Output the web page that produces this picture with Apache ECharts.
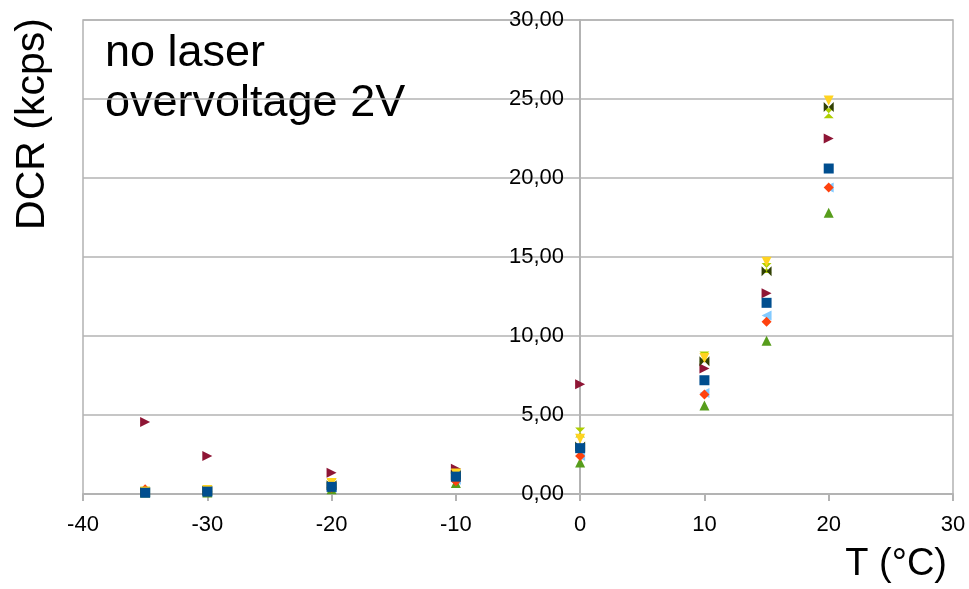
<!DOCTYPE html>
<html>
<head>
<meta charset="utf-8">
<script src="https://cdn.jsdelivr.net/npm/echarts@6/dist/echarts.min.js"></script>
<style>
  html, body { margin: 0; padding: 0; background: #fff; }
  #chart { width: 969px; height: 589px; }
</style>
</head>
<body>
<div id="chart"></div>
<script>
// temperatures (°C)
const temps = [-35, -30, -20, -10, 0, 10, 15, 20]

// DCR (kcps) per sample
const sBlue      = [0.08, 0.15, 0.45, 1.10, 2.90, 7.20, 12.10, 20.60]
const sOrange    = [0.30, 0.15, 0.40, 0.80, 2.40, 6.30, 10.90, 19.40]
const sYellow    = [0.15, 0.25, 0.70, 1.30, 3.50, 8.60, 14.70, 24.90]
const sGreen     = [0.10, 0.10, 0.30, 0.70, 2.00, 5.60, 9.70, 17.80]
const sDarkRed   = [4.55, 2.40, 1.35, 1.60, 6.95, 7.95, 12.70, 22.50]
const sLightBlue = [0.10, 0.12, 0.40, 0.90, 2.40, 6.40, 11.30, 19.40]
const sOlive     = [0.12, 0.20, 0.55, 1.20, 3.00, 8.40, 14.10, 24.50]
const sLime      = [0.15, 0.25, 0.65, 1.25, 3.90, 8.70, 14.30, 24.10]

const bowtie = 'path://M0,0L10,10L0,20Z M20,0L10,10L20,20Z'
const sandglass = 'path://M0,0L20,0L10,10L20,20L0,20L10,10Z'

// drawing order: later ones sit on top
const seriesDefs = [
  { name: 'lightblue', data: sLightBlue, color: '#83caff', symbol: 'triangle', rotate: 90 },
  { name: 'green', data: sGreen, color: '#579d1c', symbol: 'triangle', rotate: 0 },
  { name: 'orange', data: sOrange, color: '#ff420e', symbol: 'diamond', rotate: 0 },
  { name: 'darkred', data: sDarkRed, color: '#8e1535', symbol: 'triangle', rotate: -90 },
  { name: 'lime', data: sLime, color: '#aecf00', symbol: sandglass, rotate: 0 },
  { name: 'olive', data: sOlive, color: '#314004', symbol: bowtie, rotate: 0 },
  { name: 'yellow', data: sYellow, color: '#ffd320', symbol: 'triangle', rotate: 180 },
  { name: 'blue', data: sBlue, color: '#004e8f', symbol: 'rect', rotate: 0 }
]

const chart = echarts.init(document.getElementById('chart'))
const font = '"Liberation Sans", Arial, sans-serif'
const gridColor = '#b3b3b3'

const option = {
  animation: false,
  grid: {
    left: 83, right: 16, top: 20, bottom: 95,
    show: true, borderColor: gridColor, borderWidth: 1.5
  },
  xAxis: {
    type: 'value', min: -40, max: 30, interval: 10,
    axisLine: { show: true, lineStyle: { color: gridColor, width: 2 } },
    axisTick: { show: true, length: 7, lineStyle: { color: gridColor, width: 2 } },
    axisLabel: { color: '#000', fontFamily: font, fontSize: 22, margin: 20 },
    splitLine: { show: false }
  },
  yAxis: {
    type: 'value', min: 0, max: 30, interval: 5,
    offset: -497, // axis drawn through x = 0
    axisLine: { show: true, lineStyle: { color: gridColor, width: 2 } },
    axisTick: { show: false },
    axisLabel: {
      color: '#000', fontFamily: font, fontSize: 22, margin: 16,
      formatter: v => v.toFixed(2).replace('.', ',')
    },
    splitLine: { show: true, lineStyle: { color: gridColor, width: 1.5 } }
  },
  series: seriesDefs.map(d => ({
    name: d.name,
    type: 'scatter',
    symbol: d.symbol,
    symbolSize: 10,
    symbolRotate: d.rotate,
    itemStyle: { color: d.color, opacity: 1 },
    data: temps.map((t, i) => [t, d.data[i]])
  })),
  graphic: [
    {
      type: 'text', left: 105, top: 29,
      style: { text: 'no laser\novervoltage 2V', font: '45px ' + font, fill: '#000', lineHeight: 50 }
    },
    {
      type: 'text', x: 33, y: 124, rotation: Math.PI / 2,
      style: { text: 'DCR (kcps)', font: '41px ' + font, fill: '#000', align: 'center', verticalAlign: 'middle' }
    },
    {
      type: 'text', right: 22, top: 546,
      style: { text: 'T (°C)', font: '38px ' + font, fill: '#000' }
    }
  ]
}

chart.setOption(option)
window.addEventListener('resize', () => chart.resize())
</script>
</body>
</html>
